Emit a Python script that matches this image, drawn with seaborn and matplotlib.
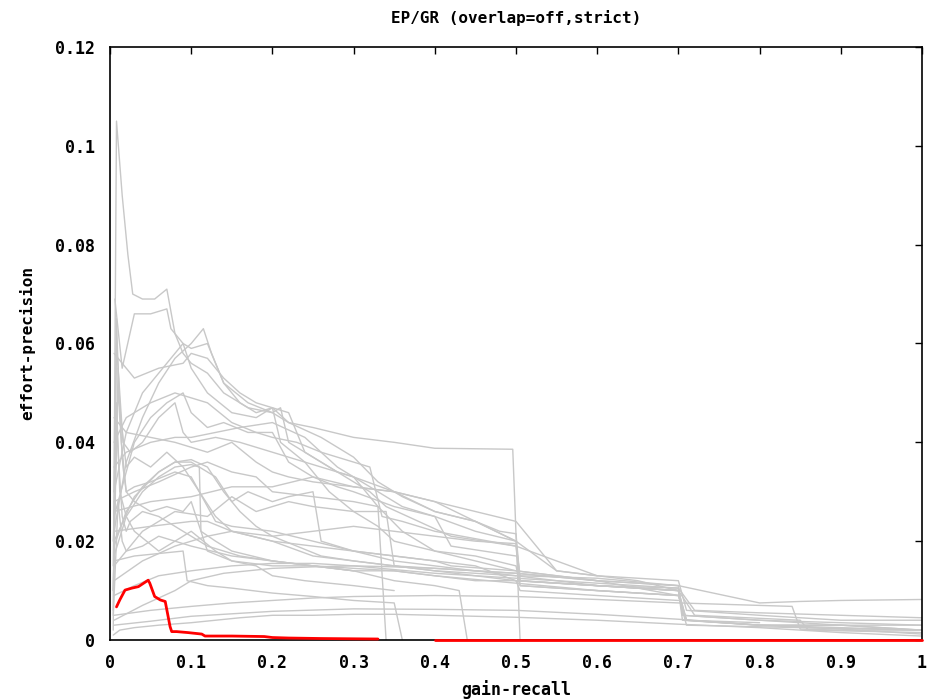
import matplotlib
matplotlib.use("Agg")
import matplotlib.pyplot as plt
import seaborn as sns
import pandas as pd

# ---------------- data ----------------
title = "EP/GR (overlap=off,strict)"
x_label = "gain-recall"
y_label = "effort-precision"
x_ticks = [0, 0.1, 0.2, 0.3, 0.4, 0.5, 0.6, 0.7, 0.8, 0.9, 1.0]
x_tick_labels = ["0", "0.1", "0.2", "0.3", "0.4", "0.5", "0.6", "0.7", "0.8", "0.9", "1"]
y_ticks = [0, 0.02, 0.04, 0.06, 0.08, 0.10, 0.12]
y_tick_labels = ["0", "0.02", "0.04", "0.06", "0.08", "0.1", "0.12"]

g01_x = [0.005,0.008,0.015,0.022,0.028,0.04,0.055,0.07,0.08,0.09,0.1,0.12,0.14,0.17,0.2,0.21,0.22,0.25,0.28,0.3,0.33,0.36,0.4,0.45,0.5,0.505,0.6,0.7,0.705,0.8,0.9,1.0]
g01_y = [0.03,0.105,0.09,0.078,0.07,0.069,0.069,0.071,0.062,0.058,0.056,0.054,0.050,0.047,0.046,0.047,0.040,0.037,0.034,0.033,0.030,0.027,0.025,0.022,0.020,0.012,0.011,0.010,0.004,0.003,0.003,0.002]
g02_x = [0.006,0.015,0.03,0.05,0.07,0.075,0.09,0.1,0.12,0.14,0.17,0.2,0.22,0.25,0.3,0.35,0.4,0.45,0.496,0.505]
g02_y = [0.069,0.055,0.066,0.066,0.067,0.063,0.060,0.059,0.060,0.052,0.048,0.046,0.044,0.043,0.041,0.040,0.0388,0.0387,0.0386,0.0]
g03_x = [0.005,0.02,0.04,0.06,0.08,0.1,0.115,0.125,0.14,0.16,0.18,0.2,0.22,0.24,0.27,0.3,0.32,0.34,0.38,0.42,0.46,0.5,0.505,0.55,0.6,0.65,0.7]
g03_y = [0.022,0.036,0.045,0.052,0.057,0.060,0.063,0.058,0.052,0.048,0.046,0.047,0.046,0.038,0.035,0.032,0.030,0.027,0.024,0.021,0.020,0.019,0.011,0.0105,0.0100,0.0095,0.009]
g04_x = [0.005,0.03,0.06,0.09,0.1,0.12,0.14,0.16,0.18,0.2,0.22,0.26,0.3,0.33,0.36,0.4,0.45,0.5,0.55,0.6,0.7,0.71,0.8,0.9,1.0]
g04_y = [0.058,0.053,0.055,0.056,0.058,0.057,0.053,0.050,0.048,0.047,0.044,0.041,0.037,0.032,0.029,0.026,0.024,0.02,0.014,0.013,0.012,0.006,0.005,0.004,0.004]
g05_x = [0.005,0.02,0.04,0.07,0.09,0.1,0.12,0.15,0.18,0.2,0.21,0.24,0.28,0.3,0.33,0.36,0.4,0.45,0.5,0.55,0.6]
g05_y = [0.03,0.042,0.050,0.056,0.060,0.055,0.050,0.046,0.045,0.047,0.040,0.036,0.034,0.033,0.027,0.022,0.018,0.016,0.014,0.013,0.012]
g06_x = [0.005,0.03,0.05,0.07,0.09,0.1,0.12,0.14,0.17,0.2,0.22,0.25,0.28,0.3,0.35,0.4,0.42,0.5]
g06_y = [0.025,0.040,0.045,0.048,0.050,0.046,0.043,0.044,0.042,0.042,0.036,0.033,0.031,0.030,0.027,0.025,0.019,0.017]
g07_x = [0.005,0.02,0.05,0.08,0.1,0.12,0.15,0.18,0.2,0.23,0.26,0.3,0.32,0.335,0.36,0.4,0.5,0.6]
g07_y = [0.04,0.045,0.048,0.050,0.049,0.048,0.044,0.042,0.041,0.040,0.038,0.036,0.035,0.025,0.024,0.022,0.019,0.013]
g08_x = [0.005,0.02,0.05,0.08,0.1,0.13,0.16,0.2,0.24,0.28,0.3,0.35,0.4,0.45,0.5,0.55,0.6,0.65,0.7]
g08_y = [0.035,0.038,0.040,0.041,0.041,0.042,0.043,0.044,0.041,0.035,0.033,0.030,0.028,0.026,0.024,0.014,0.013,0.012,0.010]
g09_x = [0.005,0.02,0.05,0.08,0.1,0.12,0.15,0.18,0.2,0.22,0.25,0.3,0.35,0.4,0.45,0.5]
g09_y = [0.045,0.042,0.041,0.040,0.039,0.038,0.040,0.036,0.034,0.033,0.032,0.031,0.030,0.028,0.024,0.020]
g10_x = [0.005,0.02,0.04,0.06,0.08,0.1,0.12,0.14,0.16,0.18,0.2,0.23,0.26,0.3,0.35,0.4,0.45,0.5,0.55,0.6,0.7,0.71,0.8,0.9,1.0]
g10_y = [0.019,0.026,0.031,0.034,0.036,0.0365,0.035,0.030,0.026,0.023,0.021,0.019,0.017,0.016,0.015,0.014,0.0135,0.013,0.012,0.011,0.010,0.004,0.003,0.003,0.002]
g11_x = [0.005,0.02,0.04,0.06,0.08,0.1,0.11,0.112,0.13,0.15,0.2,0.25,0.3,0.35,0.4,0.5,0.6,0.7,0.71,0.85,1.0]
g11_y = [0.017,0.025,0.030,0.033,0.035,0.0355,0.035,0.022,0.020,0.018,0.016,0.015,0.0145,0.014,0.013,0.0115,0.010,0.009,0.003,0.0025,0.002]
g12_x = [0.005,0.03,0.06,0.08,0.1,0.12,0.13,0.15,0.17,0.2,0.22,0.25,0.26,0.3,0.35,0.4,0.45,0.5,0.6,0.7,0.72,0.85,0.86,1.0]
g12_y = [0.02,0.029,0.034,0.036,0.036,0.034,0.033,0.028,0.030,0.028,0.029,0.030,0.020,0.018,0.017,0.016,0.015,0.012,0.011,0.010,0.005,0.004,0.002,0.0015]
g13_x = [0.005,0.04,0.08,0.12,0.15,0.18,0.2,0.22,0.25,0.3,0.34,0.35,0.4,0.45,0.5,0.6,0.7]
g13_y = [0.015,0.022,0.026,0.025,0.029,0.026,0.027,0.028,0.027,0.026,0.026,0.015,0.0145,0.014,0.0135,0.012,0.011]
g14_x = [0.005,0.03,0.06,0.1,0.12,0.15,0.18,0.2,0.25,0.3,0.33,0.34]
g14_y = [0.028,0.030,0.032,0.035,0.036,0.034,0.033,0.030,0.029,0.028,0.027,0.0]
g15_x = [0.005,0.05,0.1,0.15,0.2,0.25,0.3,0.35,0.4,0.45,0.48,0.5,0.505,0.6,0.7,0.705,0.8,0.9,1.0]
g15_y = [0.026,0.028,0.029,0.031,0.031,0.033,0.031,0.030,0.026,0.024,0.022,0.0215,0.012,0.011,0.0105,0.005,0.004,0.003,0.003]
g16_x = [0.005,0.05,0.1,0.12,0.15,0.2,0.25,0.3,0.35,0.4,0.45,0.5,0.505,0.6,0.7,0.8,0.85,0.9,1.0]
g16_y = [0.022,0.023,0.024,0.024,0.022,0.021,0.022,0.023,0.022,0.021,0.020,0.0195,0.013,0.0125,0.011,0.0075,0.0078,0.008,0.0082]
g17_x = [0.005,0.04,0.08,0.1,0.12,0.15,0.2,0.25,0.3,0.35,0.4,0.45,0.5,0.55,0.6,0.7,0.71,0.8]
g17_y = [0.012,0.016,0.019,0.020,0.021,0.022,0.020,0.017,0.016,0.015,0.014,0.013,0.012,0.0115,0.011,0.010,0.004,0.0035]
g18_x = [0.005,0.03,0.06,0.1,0.15,0.2,0.25,0.3,0.4,0.5,0.6,0.7,0.72,0.8,0.9,1.0]
g18_y = [0.009,0.011,0.013,0.014,0.015,0.0155,0.0155,0.015,0.0135,0.0125,0.0115,0.0105,0.006,0.0055,0.005,0.0045]
g19_x = [0.005,0.05,0.1,0.15,0.2,0.25,0.3,0.4,0.5,0.6,0.7,0.8,0.84,0.85,0.9,1.0]
g19_y = [0.005,0.006,0.0068,0.0075,0.008,0.0085,0.0088,0.009,0.0088,0.0082,0.0075,0.007,0.0068,0.0022,0.002,0.002]
g20_x = [0.005,0.05,0.1,0.2,0.3,0.4,0.5,0.6,0.7,0.8,0.9,1.0]
g20_y = [0.003,0.0038,0.0048,0.0058,0.0063,0.0062,0.006,0.0052,0.0042,0.003,0.0022,0.0012]
g21_x = [0.005,0.03,0.06,0.09,0.095,0.12,0.15,0.2,0.25,0.3,0.35,0.36]
g21_y = [0.016,0.017,0.0175,0.018,0.012,0.011,0.0105,0.0095,0.0088,0.008,0.0075,0.0]
g22_x = [0.005,0.04,0.08,0.1,0.14,0.2,0.25,0.3,0.35,0.4,0.45,0.5,0.6,0.7]
g22_y = [0.004,0.007,0.010,0.012,0.0135,0.0145,0.0148,0.015,0.0148,0.0145,0.014,0.0135,0.012,0.009]
g23_x = [0.004,0.008,0.012,0.016,0.02,0.03,0.05,0.08,0.1,0.13,0.15,0.2,0.25,0.3,0.35,0.4,0.42,0.5,0.6,0.7,0.705,0.8,1.0]
g23_y = [0.006,0.065,0.045,0.035,0.03,0.031,0.032,0.034,0.033,0.024,0.023,0.022,0.020,0.018,0.017,0.016,0.015,0.014,0.012,0.011,0.005,0.004,0.003]
g24_x = [0.004,0.01,0.014,0.02,0.03,0.05,0.07,0.09,0.1,0.12,0.15,0.2,0.25,0.3,0.35,0.4,0.45,0.5,0.505,0.6,0.7]
g24_y = [0.01,0.055,0.04,0.03,0.028,0.026,0.027,0.026,0.028,0.018,0.016,0.015,0.015,0.014,0.014,0.013,0.012,0.012,0.010,0.009,0.008]
g25_x = [0.004,0.006,0.01,0.015,0.02,0.025,0.04,0.06,0.08,0.1,0.12,0.14,0.16,0.2,0.25,0.3,0.35,0.4,0.43,0.44]
g25_y = [0.002,0.05,0.038,0.025,0.022,0.024,0.026,0.025,0.023,0.021,0.019,0.018,0.017,0.016,0.015,0.014,0.012,0.011,0.010,0.0]
g26_x = [0.004,0.008,0.012,0.02,0.03,0.045,0.06,0.08,0.1,0.15,0.2,0.25,0.3]
g26_y = [0.01,0.048,0.03,0.025,0.022,0.020,0.018,0.020,0.019,0.017,0.016,0.015,0.014]
g27_x = [0.004,0.008,0.012,0.016,0.025,0.04,0.06,0.08,0.09,0.1,0.13,0.16,0.2,0.24,0.27,0.3,0.33,0.35,0.4,0.45,0.5,0.505,0.6,0.7,0.71,0.8,1.0]
g27_y = [0.015,0.06,0.05,0.04,0.038,0.040,0.045,0.048,0.042,0.040,0.041,0.040,0.038,0.036,0.030,0.026,0.023,0.020,0.018,0.017,0.015,0.011,0.010,0.009,0.004,0.003,0.002]
g28_x = [0.004,0.01,0.02,0.03,0.05,0.07,0.09,0.11,0.13,0.15,0.2,0.25,0.3,0.35,0.4,0.5]
g28_y = [0.02,0.05,0.035,0.037,0.035,0.038,0.035,0.030,0.025,0.022,0.020,0.019,0.018,0.016,0.015,0.013]
g29_x = [0.004,0.01,0.015,0.02,0.04,0.06,0.08,0.1,0.13,0.15,0.18,0.2,0.24,0.3,0.35]
g29_y = [0.005,0.028,0.02,0.018,0.019,0.021,0.020,0.022,0.018,0.016,0.015,0.013,0.012,0.011,0.010]
g30_x = [0.004,0.012,0.03,0.06,0.1,0.13,0.16,0.2,0.25,0.3,0.35,0.4,0.45,0.5,0.6,0.7,0.8,0.9,1.0]
g30_y = [0.001,0.002,0.0025,0.003,0.0035,0.004,0.0045,0.005,0.005,0.0052,0.0052,0.005,0.0048,0.0046,0.004,0.0032,0.0025,0.0015,0.0008]

# highlighted run (red), two pieces
red_a_x = [0.008,0.012,0.0185,0.027,0.035,0.047,0.049,0.055,0.062,0.068,0.070,0.074,0.076,0.082,0.096,0.113,0.117,0.15,0.19,0.2,0.22,0.26,0.33]
red_a_y = [0.0067,0.0081,0.0101,0.0105,0.0108,0.0121,0.0115,0.0088,0.0081,0.0078,0.0061,0.0027,0.0017,0.0017,0.0015,0.0012,0.0008,0.0008,0.0007,0.0005,0.0004,0.0003,0.0002]
red_b_x = [0.40, 1.0]
red_b_y = [0.0001, 0.0001]

grey_series = [
    (g01_x, g01_y), (g02_x, g02_y), (g03_x, g03_y), (g04_x, g04_y), (g05_x, g05_y),
    (g06_x, g06_y), (g07_x, g07_y), (g08_x, g08_y), (g09_x, g09_y), (g10_x, g10_y),
    (g11_x, g11_y), (g12_x, g12_y), (g13_x, g13_y), (g14_x, g14_y), (g15_x, g15_y),
    (g16_x, g16_y), (g17_x, g17_y), (g18_x, g18_y), (g19_x, g19_y), (g20_x, g20_y),
    (g21_x, g21_y), (g22_x, g22_y), (g23_x, g23_y), (g24_x, g24_y), (g25_x, g25_y),
    (g26_x, g26_y), (g27_x, g27_y), (g28_x, g28_y), (g29_x, g29_y), (g30_x, g30_y),
]

rows = []
for i, (xs, ys) in enumerate(grey_series):
    for k, (xv, yv) in enumerate(zip(xs, ys)):
        rows.append({"run": i, "order": k, "recall": xv, "precision": yv})
grey_df = pd.DataFrame(rows)

red_rows = []
for j, (xs, ys) in enumerate([(red_a_x, red_a_y), (red_b_x, red_b_y)]):
    for k, (xv, yv) in enumerate(zip(xs, ys)):
        red_rows.append({"run": j, "order": k, "recall": xv, "precision": yv})
red_df = pd.DataFrame(red_rows)

# ---------------- drawing ----------------
sns.set_style("white")
plt.rcParams["font.family"] = ["DejaVu Sans Mono", "DejaVu Sans"]
plt.rcParams["font.weight"] = "bold"
plt.rcParams["text.color"] = "black"
plt.rcParams["axes.labelcolor"] = "black"
plt.rcParams["xtick.color"] = "black"
plt.rcParams["ytick.color"] = "black"

fig = plt.figure(figsize=(9.33, 7.0), dpi=100)
ax = fig.add_axes([110 / 933, 1 - 640 / 700, (922 - 110) / 933, (640 - 47) / 700])

sns.lineplot(data=grey_df, x="recall", y="precision", units="run", estimator=None,
             sort=False, color="#c8c8c8", linewidth=1.0, ax=ax, legend=False)
sns.lineplot(data=red_df, x="recall", y="precision", units="run", estimator=None,
             sort=False, color="#ff0000", linewidth=2.0, ax=ax, legend=False,
             clip_on=False, zorder=3)

ax.set_xlim(0, 1)
ax.set_ylim(0, 0.12)
ax.set_xticks(x_ticks)
ax.set_xticklabels(x_tick_labels)
ax.set_yticks(y_ticks)
ax.set_yticklabels(y_tick_labels)
ax.tick_params(direction="in", length=5, width=1, top=True, right=True,
               labelsize=12, colors="black", labelcolor="black")
ax.tick_params(axis="y", pad=11)
ax.tick_params(axis="x", pad=10)
for lab in ax.get_xticklabels() + ax.get_yticklabels():
    lab.set_fontweight("bold")
    lab.set_color("black")
for sp in ax.spines.values():
    sp.set_visible(True)
    sp.set_color("black")
    sp.set_linewidth(1.2)

ax.set_xlabel(x_label, fontsize=12, fontweight="bold", color="black")
ax.set_ylabel(y_label, fontsize=11.5, fontweight="bold", color="black")
ax.xaxis.set_label_coords(0.5, -(680 - 640) / 593)
ax.yaxis.set_label_coords((35 - 110) / 812, 0.5)
ax.set_title(title, fontsize=11.5, fontweight="bold", pad=17, color="black")

fig.savefig("out.png", dpi=100, facecolor="white")
